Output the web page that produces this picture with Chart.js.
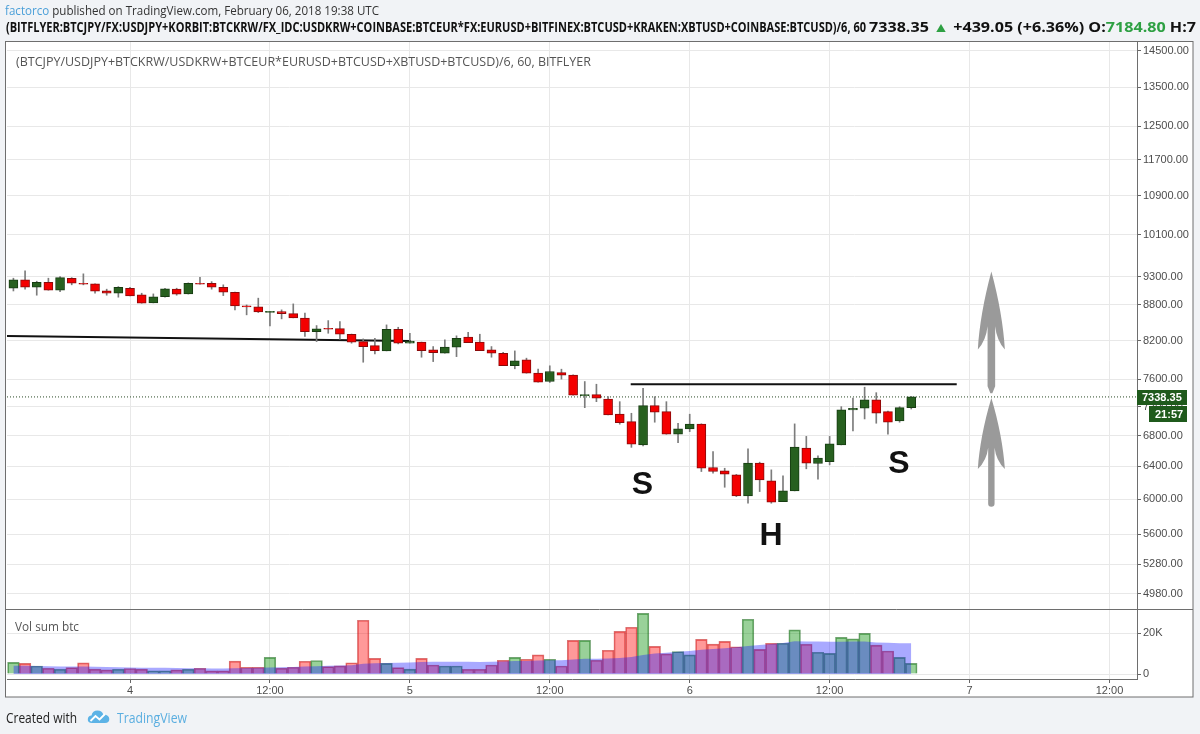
<!DOCTYPE html>
<html>
<head>
<meta charset="utf-8">
<script src="https://cdn.jsdelivr.net/npm/chart.js@4.4.1/dist/chart.umd.min.js"></script>
<style>
html,body{margin:0;padding:0;background:#f1f3f6;width:1200px;height:734px;overflow:hidden;}
#wrap{position:relative;width:1200px;height:734px;overflow:hidden;}
canvas{position:absolute;left:0;top:0;}
.line{position:absolute;white-space:nowrap;transform-origin:0 50%;font-family:"Open Sans",sans-serif;z-index:2;}
#h1{left:5px;top:1px;font-size:13px;color:#333;}
#h2a{left:6px;top:18px;font-size:13.5px;font-weight:700;color:#111;}
#h2b{left:869px;top:18px;font-size:13.5px;font-weight:700;color:#111;}
#f1{left:6px;top:708px;font-size:14px;color:#222;}
#f2{left:117px;top:708px;font-size:14px;color:#5aaee0;}
#logo{position:absolute;left:87px;top:709px;z-index:2;}
.g{color:#2ea043;}
.b{color:#4a9fd8;}
</style>
</head>
<body>
<div id="wrap">
<canvas id="c" width="1200" height="734"></canvas>
<div id="h1" class="line"><span class="b">factorco</span> published on TradingView.com, February 06, 2018 19:38 UTC</div>
<div id="h2a" class="line">(BITFLYER:BTCJPY/FX:USDJPY+KORBIT:BTCKRW/FX_IDC:USDKRW+COINBASE:BTCEUR*FX:EURUSD+BITFINEX:BTCUSD+KRAKEN:XBTUSD+COINBASE:BTCUSD)/6, 60</div>
<div id="h2b" class="line">7338.35 <span class="g">▲</span> +439.05 (+6.36%) O:<span class="g">7184.80</span> H:7</div>
<div id="f1" class="line">Created with</div>
<svg id="logo" width="23" height="15" viewBox="0 0 23 15"><path d="M5 14 Q0.5 14 0.8 10 Q1.2 6.5 4.5 6.5 Q5.5 1.5 10.5 1.5 Q15 1.5 16.3 5.5 Q22 5.5 22.3 10 Q22.3 14 18 14 Z" fill="#5cb3e6"/><path d="M3.5 12 L8.5 7 L12.5 10.5 L18 5" stroke="#fff" stroke-width="1.8" fill="none"/></svg>
<div id="f2" class="line">TradingView</div>
</div>
<script>
// ---------------- DATA ----------------
const firstHour = -10; // first candle: Feb 3 14:00 (hours relative to Feb 4 00:00), hourly candles
const xTickHours = [0, 12, 24, 36, 48, 60, 72, 84];
const xTickLabels = ['4', '12:00', '5', '12:00', '6', '12:00', '7', '12:00'];
const priceTicks = [14500, 13500, 12500, 11700, 10900, 10100, 9300, 8800, 8200, 7600, 7200, 6800, 6400, 6000, 5600, 5280, 4980];
const volTicks = [0, 20000];
const volTickLabels = ['0', '20K'];

const opens = [9090,9240,9106,9197,9054,9270,9179,9166,9041,9000,
  9089,8970,8830,8941,9072,8988,9179,9179,9106,9018,
  8778,8761,8668,8681,8647,8569,8345,8398,8395,8302,
  8183,8119,8034,8384,8157,8173,8050,7997,8092,8254,
  8173,8050,7997,7804,7893,7690,7564,7700,7660,7357,
  7372,7309,7093,6990,6677,7213,7129,6819,6891,6955,
  6386,6346,6295,6039,6441,6221,5972,6099,6634,6437,
  6459,6677,7153,7177,7295,7129,6999,7184.80];
const highs = [9270,9405,9215,9270,9300,9280,9350,9170,9072,9118,
  9106,9000,8988,9089,9089,9185,9288,9208,9150,9020,
  8795,8913,8685,8710,8813,8653,8445,8528,8510,8305,
  8226,8237,8456,8417,8318,8175,8103,8210,8276,8335,
  8302,8103,8013,8034,7920,7750,7802,7750,7665,7564,
  7524,7342,7270,7106,7465,7342,7270,6968,7093,6960,
  6590,6377,6300,6625,6454,6357,6282,6959,6790,6535,
  6790,7199,7320,7480,7400,7135,7199,7345];
const lows = [9040,9072,8965,9054,9029,9150,9150,9000,8965,8930,
  8953,8825,8830,8930,8965,8985,9161,9072,8958,8710,
  8625,8664,8439,8557,8574,8265,8183,8318,8222,8157,
  7857,7986,8034,8146,8157,7935,7867,7997,7944,8167,
  8039,7935,7804,7756,7690,7555,7550,7600,7362,7185,
  7270,7083,6955,6645,6664,6982,6819,6707,6854,6336,
  6316,6143,6031,5953,6091,5953,5972,6099,6370,6241,
  6420,6677,6863,7027,6968,6819,6982,7166];
const closes = [9240,9106,9197,9054,9282,9179,9161,9036,9000,9106,
  8953,8825,8936,9077,8983,9179,9161,9106,9018,8778,
  8762,8676,8684,8647,8574,8345,8390,8386,8302,8173,
  8103,8039,8384,8157,8189,8039,8008,8093,8237,8167,
  8039,7997,7804,7877,7690,7555,7715,7660,7362,7372,
  7320,7083,6977,6686,7213,7120,6819,6891,6955,6377,
  6336,6304,6039,6441,6233,5964,6099,6647,6441,6505,
  6690,7153,7177,7295,7106,6982,7185,7338.35];
const volumes = [5700,5200,3900,2800,2300,3100,5400,2400,2000,2300,
  2700,2400,1600,1600,2000,2300,2800,1500,1500,6300,
  3300,3300,8100,2900,3300,6200,6600,3600,4000,5500,
  26200,7600,5200,3100,2400,7600,4400,3900,3900,2300,
  2300,4400,6700,8100,7200,9300,7200,3900,16400,16400,
  6700,11600,20800,22800,29600,13500,9800,10900,9300,16900,
  14600,15900,13300,26700,12000,15000,15000,21500,14500,10600,
  10100,17900,17100,19800,14100,11200,8100,5200];
const volMA = [4000,4000,3900,3800,3700,3600,3600,3500,3400,3300,
  3200,3100,3000,3000,2900,2800,2800,2700,2700,2800,
  2900,3000,3200,3300,3400,3600,3800,4000,4100,4300,
  5000,5200,5400,5500,5600,5900,6000,6000,6000,6000,
  5900,6000,6100,6300,6400,6600,6700,6700,7100,7400,
  7500,7600,7800,8300,9300,10000,10400,10800,11200,11800,
  12200,12600,13000,13600,14100,14600,15100,16000,15900,15800,
  15700,15700,15800,15800,15400,15200,15000,15000];

const lastClose = 7338.35;
const countdown = '21:57';
const trendLine = [{x: -10.6, y: 8275}, {x: 24.1, y: 8194}];
const neckLine = [{x: 42.94, y: 7524}, {x: 70.9, y: 7524}];
const arrows = [{x: 73.87, from: 7390, to: 9392}, {x: 73.87, from: 5913, to: 7323}];
const letters = [{t: 'S', x: 43.95, y: 6180}, {t: 'H', x: 54.97, y: 5593}, {t: 'S', x: 65.95, y: 6435}];
const paneTitle = '(BTCJPY/USDJPY+BTCKRW/USDKRW+BTCEUR*EURUSD+BTCUSD+XBTUSD+BTCUSD)/6, 60, BITFLYER';
const volTitle = 'Vol sum btc';

// ---------------- CHART ----------------
const xMin = -10.55, xMax = 86.36;
const xs = closes.map((_, i) => firstHour + i);
const up = closes.map((c, i) => c >= opens[i]);

Chart.defaults.font.family = '"Liberation Sans", Arial, sans-serif';
Chart.defaults.font.size = 11;
Chart.defaults.color = '#4d4d4d';

function drawArrow(ctx, x, yTip, yEnd, headLen, hw, sw, taperEnd) {
  const b = yTip + headLen;
  ctx.beginPath();
  ctx.moveTo(x, yTip);
  ctx.bezierCurveTo(x - hw * 0.55, yTip + headLen * 0.35, x - hw * 0.9, yTip + headLen * 0.7, x - hw, b);
  ctx.quadraticCurveTo(x - sw - 1.5, b - headLen * 0.12, x - sw, b - headLen * 0.3);
  if (taperEnd) {
    ctx.lineTo(x - sw, yEnd - 7);
    ctx.lineTo(x - 1, yEnd);
    ctx.lineTo(x + 1, yEnd);
    ctx.lineTo(x + sw, yEnd - 7);
  } else {
    ctx.lineTo(x - sw, yEnd - sw);
    ctx.arc(x, yEnd - sw, sw, Math.PI, 0, true);
  }
  ctx.lineTo(x + sw, b - headLen * 0.3);
  ctx.quadraticCurveTo(x + sw + 1.5, b - headLen * 0.12, x + hw, b);
  ctx.bezierCurveTo(x + hw * 0.9, yTip + headLen * 0.7, x + hw * 0.55, yTip + headLen * 0.35, x, yTip);
  ctx.closePath();
  ctx.fill();
}

function fitText(ctx, text, x, y, target) {
  const w = ctx.measureText(text).width;
  ctx.save();
  ctx.translate(x, y);
  ctx.scale(target / w, 1);
  ctx.fillText(text, 0, 0);
  ctx.restore();
}

const overlay = {
  id: 'overlay',
  beforeDraw(chart) {
    const c = chart.ctx;
    c.save();
    c.fillStyle = '#ffffff';
    c.fillRect(6, 42, 1187, 655);
    c.restore();
  },
  afterDatasetsDraw(chart) {
    const c = chart.ctx, sx = chart.scales.x, sy = chart.scales.y;
    c.save();
    c.fillStyle = '#9a9a9a';
    arrows.forEach((a, i) => {
      const x = sx.getPixelForValue(a.x);
      const yt = sy.getPixelForValue(a.to), yb = sy.getPixelForValue(a.from);
      drawArrow(c, x, yt, yb, i === 0 ? 78 : 71, 13.5, i === 0 ? 3.8 : 3.2, i === 0);
    });
    c.fillStyle = '#111';
    c.font = 'bold 32px "Liberation Sans", Arial, sans-serif';
    c.textAlign = 'center';
    c.textBaseline = 'middle';
    letters.forEach(l => c.fillText(l.t, sx.getPixelForValue(l.x), sy.getPixelForValue(l.y) + 1));
    c.restore();
  },
  afterDraw(chart) {
    const c = chart.ctx, sy = chart.scales.y, a = chart.chartArea;
    c.save();
    c.strokeStyle = '#6e6e6e';
    c.lineWidth = 1;
    c.strokeRect(5.5, 41.5, 1187.5, 655.5);
    c.beginPath();
    c.moveTo(6, Math.round(chart.scales.yv.top) + 0.5);
    c.lineTo(1193, Math.round(chart.scales.yv.top) + 0.5);
    c.stroke();
    c.fillStyle = '#555';
    c.textAlign = 'left';
    c.textBaseline = 'middle';
    c.font = '13px "Open Sans", sans-serif';
    fitText(c, paneTitle, a.left + 9, 62, 575);
    fitText(c, volTitle, a.left + 8, chart.scales.yv.top + 18, 64);
    const yp = Math.round(sy.getPixelForValue(lastClose));
    c.fillStyle = '#1f5a1c';
    c.fillRect(a.right, yp - 7, 50, 15);
    c.fillRect(a.right + 12, yp + 9, 38, 16);
    c.fillStyle = '#ffffff';
    c.font = 'bold 11px "Liberation Sans", Arial, sans-serif';
    c.fillText(lastClose.toFixed(2), a.right + 5, yp + 1);
    c.fillText(countdown, a.right + 18, yp + 17.5);
    c.restore();
  }
};

new Chart(document.getElementById('c').getContext('2d'), {
  type: 'bar',
  data: {
    datasets: [
      { type: 'line', label: 'trend', yAxisID: 'y', data: trendLine, borderColor: '#111', borderWidth: 2, pointRadius: 0, order: 6 },
      { type: 'line', label: 'neck', yAxisID: 'y', data: neckLine, borderColor: '#111', borderWidth: 2, pointRadius: 0, order: 6 },
      { type: 'line', label: 'last', yAxisID: 'y', data: [{x: xMin, y: lastClose}, {x: xMax, y: lastClose}], borderColor: '#2b4a26', borderWidth: 1, borderDash: [1, 2], pointRadius: 0, order: 6 },
      { label: 'wick', yAxisID: 'y', data: xs.map((x, i) => ({x, y: [lows[i], highs[i]]})), backgroundColor: '#7c7c7c', barThickness: 1, grouped: false, order: 5 },
      { label: 'body', yAxisID: 'y', data: xs.map((x, i) => ({x, y: [opens[i], closes[i]]})),
        backgroundColor: up.map(u => u ? '#27601f' : '#f40000'), borderColor: up.map(u => u ? '#173c12' : '#8a0a0a'),
        borderWidth: 1, borderSkipped: false, barThickness: 9, grouped: false, order: 4 },
      { label: 'vol', yAxisID: 'yv', data: xs.map((x, i) => ({x, y: volumes[i]})),
        backgroundColor: up.map(u => u ? 'rgba(0,140,0,0.4)' : 'rgba(255,0,0,0.4)'),
        borderColor: up.map(u => u ? 'rgba(0,90,0,0.55)' : 'rgba(190,0,0,0.55)'),
        borderWidth: 1, borderSkipped: 'start', barPercentage: 1, categoryPercentage: 1, grouped: false, order: 3 },
      { type: 'line', label: 'volMA', yAxisID: 'yv', data: xs.map((x, i) => ({x, y: volMA[i]})),
        fill: 'origin', backgroundColor: 'rgba(30,30,255,0.38)', borderWidth: 0, borderColor: 'rgba(0,0,0,0)', pointRadius: 0, order: 1 }
    ]
  },
  options: {
    responsive: false,
    animation: false,
    events: [],
    layout: { padding: { left: 7, top: 42, right: 7, bottom: 37 } },
    plugins: { legend: { display: false }, tooltip: { enabled: false } },
    scales: {
      x: {
        type: 'linear', position: 'bottom', min: xMin, max: xMax, offset: false, bounds: 'data',
        afterBuildTicks: s => { s.ticks = xTickHours.map(v => ({value: v})); },
        afterFit: s => { s.height = 18; },
        ticks: { autoSkip: false, maxRotation: 0, padding: 1, color: '#4d4d4d', callback: (v, i) => xTickLabels[i] },
        grid: { offset: false, color: '#e8e8e8', tickLength: 4, tickColor: '#666' },
        border: { color: '#6e6e6e' }
      },
      y: {
        type: 'logarithmic', position: 'right', stack: 'panes', stackWeight: 567, min: 4834, max: 14757, bounds: 'data',
        afterBuildTicks: s => { s.ticks = priceTicks.map(v => ({value: v})); },
        afterFit: s => { s.width = 56; },
        ticks: { autoSkip: false, padding: 2, color: '#4d4d4d', callback: v => Number(v).toFixed(2) },
        grid: { color: '#e8e8e8', tickLength: 4, tickColor: '#666' },
        border: { color: '#6e6e6e' }
      },
      yv: {
        type: 'linear', position: 'right', stack: 'panes', stackWeight: 70, min: -2437, max: 31709, bounds: 'data',
        afterBuildTicks: s => { s.ticks = volTicks.map(v => ({value: v})); },
        afterFit: s => { s.width = 56; },
        ticks: { autoSkip: false, padding: 2, color: '#4d4d4d', callback: (v, i) => volTickLabels[i] },
        grid: { color: '#e8e8e8', tickLength: 4, tickColor: '#666' },
        border: { color: '#6e6e6e' }
      }
    }
  },
  plugins: [overlay]
});

// header / footer text fitting
function fit() {
  const set = (id, target) => {
    const el = document.getElementById(id);
    el.style.transform = 'none';
    const w = el.getBoundingClientRect().width;
    el.style.transform = 'scaleX(' + (target / w) + ')';
  };
  set('h1', 374);
  set('h2a', 860);
  set('h2b', 327);
  set('f1', 71);
  set('f2', 70);
}
fit();
if (document.fonts && document.fonts.ready) document.fonts.ready.then(fit);
</script>
</body>
</html>
